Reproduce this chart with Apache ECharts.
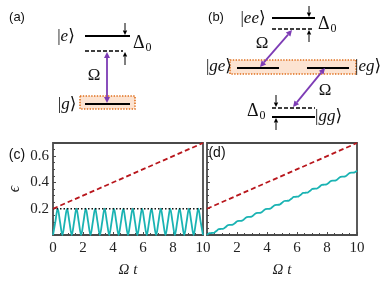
<!DOCTYPE html>
<html><head><meta charset="utf-8">
<script src="https://cdn.jsdelivr.net/npm/echarts@6/dist/echarts.min.js"></script>
<style>html,body{margin:0;padding:0;background:#fff}#c{width:382px;height:281px}</style>
</head><body><div id="c"></div><script>
// ---- data ----
const tGrid = [0,0.15625,0.3125,0.46875,0.625,0.78125,0.9375,1.09375,1.25,1.40625,1.5625,1.71875,1.875,2.03125,2.1875,2.34375,2.5,2.65625,2.8125,2.96875,3.125,3.28125,3.4375,3.59375,3.75,3.90625,4.0625,4.21875,4.375,4.53125,4.6875,4.84375,5,5.15625,5.3125,5.46875,5.625,5.78125,5.9375,6.09375,6.25,6.40625,6.5625,6.71875,6.875,7.03125,7.1875,7.34375,7.5,7.65625,7.8125,7.96875,8.125,8.28125,8.4375,8.59375,8.75,8.90625,9.0625,9.21875,9.375,9.53125,9.6875,9.84375,10];
const epsC = [0,0.1,0.2,0.1, 0,0.1,0.2,0.1, 0,0.1,0.2,0.1, 0,0.1,0.2,0.1, 0,0.1,0.2,0.1, 0,0.1,0.2,0.1, 0,0.1,0.2,0.1, 0,0.1,0.2,0.1, 0,0.1,0.2,0.1, 0,0.1,0.2,0.1, 0,0.1,0.2,0.1, 0,0.1,0.2,0.1, 0,0.1,0.2,0.1, 0,0.1,0.2,0.1, 0,0.1,0.2,0.1, 0,0.1,0.2,0.1, 0];
const epsD = [0,0.0137,0.0153,0.0170,0.0306,0.0443,0.0459,0.0476,0.0613,0.0749,0.0766,0.0782,0.0919,0.1055,0.1072,0.1088,0.1225,0.1362,0.1378,0.1395,0.1531,0.1668,0.1684,0.1701,0.1838,0.1974,0.1991,0.2007,0.2144,0.2280,0.2297,0.2313,0.2450,0.2587,0.2603,0.2620,0.2756,0.2893,0.2909,0.2926,0.3063,0.3199,0.3216,0.3232,0.3369,0.3505,0.3522,0.3538,0.3675,0.3812,0.3828,0.3845,0.3981,0.4118,0.4134,0.4151,0.4288,0.4424,0.4441,0.4457,0.4594,0.4730,0.4747,0.4763,0.4900];
const boundT = [0, 10];
const boundV = [0.2, 0.7];
const thresholdT = [0, 10];
const thresholdV = [0.2, 0.2];
const xTicks = [0, 2, 4, 6, 8, 10];
const yTicks = [0.2, 0.4, 0.6];

const pair = (a, b) => a.map((v, i) => [v, b[i]]);
const SERIF = '"Liberation Serif","DejaVu Serif",serif';
const SANS = '"Liberation Sans",Arial,sans-serif';
const RED = '#b8161c', CYAN = '#1ab3b3', PURPLE = '#7d3cb5', FRAME = '#4a4a4a';

// ---- schematic diagrams (a), (b) ----
const G = [];
function seg(x1, y1, x2, y2, c, w, dash) {
  G.push({type:'line', z:10, shape:{x1, y1, x2, y2}, style:{stroke:c||'#000', lineWidth:w||1.6, lineDash:dash||null}});
}
function head(x1, y1, x2, y2, L, W, c) {
  const dx = x2-x1, dy = y2-y1, len = Math.hypot(dx, dy), ux = dx/len, uy = dy/len;
  const bx = x2-ux*L, by = y2-uy*L;
  G.push({type:'polygon', z:11, shape:{points:[[x2,y2],[bx-uy*W,by+ux*W],[bx+uy*W,by-ux*W]]}, style:{fill:c}});
  return [bx, by];
}
function arrow(x1, y1, x2, y2) {
  const b = head(x1, y1, x2, y2, 4.5, 2.2, '#000');
  seg(x1, y1, b[0], b[1], '#000', 1);
}
function dbl(x1, y1, x2, y2) {
  const b1 = head(x2, y2, x1, y1, 6, 3, PURPLE);
  const b2 = head(x1, y1, x2, y2, 6, 3, PURPLE);
  seg(b1[0], b1[1], b2[0], b2[1], PURPLE, 1.8);
}
function txt(x, y, text, o) {
  o = o || {};
  G.push({type:'text', z:12, x, y, style:{text, fill:'#111', font:o.font || ('16px ' + SERIF),
    textAlign:o.align||'center', align:o.align||'center', textVerticalAlign:'middle', verticalAlign:'middle', rich:o.rich}});
}
const ketRich = {
  n:{fontFamily:SERIF, fontSize:17, fill:'#111'},
  i:{fontFamily:SERIF, fontSize:17, fontStyle:'italic', fill:'#111'}
};
function ket(x, y, s, align) { txt(x, y, '{n||}{i|' + s + '}{n|⟩}', {rich:ketRich, align}); }
function delta(x, y) {
  txt(x, y, 'Δ', {align:'left', font:'18px ' + SERIF});
  txt(x + 12.5, y + 5, '0', {align:'left', font:'12px ' + SERIF});
}
function box(x, y, w, h) {
  G.push({type:'rect', z:9, shape:{x, y, width:w, height:h}, style:{fill:'#fce3d1', stroke:'#e0701e', lineWidth:1.6, lineDash:[1.4,1.4]}});
}

// panel (a)
txt(17, 17, '(a)', {font:'13px ' + SANS});
ket(66, 37, 'e');
seg(85, 36, 130, 36, '#000', 1.8);
seg(85, 51, 123, 51, '#000', 1.6, [4, 2]);
arrow(125, 23, 125, 35);
arrow(125, 65, 125, 52);
delta(133, 43);
box(80, 96, 55, 13);
seg(85, 104, 130, 104, '#000', 1.8);
dbl(107, 52, 107, 103);
txt(94, 76, 'Ω', {font:'17px ' + SERIF});
ket(67, 105, 'g');

// panel (b)
txt(216, 17, '(b)', {font:'13px ' + SANS});
ket(253, 19, 'ee');
seg(272, 18, 315, 18, '#000', 1.8);
seg(272, 29, 313, 29, '#000', 1.6, [4, 2]);
arrow(309, 6, 309, 17);
arrow(309, 42, 309, 30);
delta(318, 24);
box(230, 60, 126, 14);
seg(237, 68, 279, 68, '#000', 1.8);
seg(307, 68, 349, 68, '#000', 1.8);
ket(232, 67, 'ge', 'right');
ket(355, 67, 'eg', 'left');
dbl(292, 30, 260, 67);
txt(262, 44, 'Ω', {font:'17px ' + SERIF});
dbl(325, 68, 293, 107);
txt(325, 91, 'Ω', {font:'17px ' + SERIF});
seg(272, 108, 315, 108, '#000', 1.6, [4, 2]);
seg(272, 117, 315, 117, '#000', 1.8);
arrow(276, 95, 276, 107);
arrow(276, 130, 276, 118);
delta(247, 111);
ket(315, 117, 'gg', 'left');

// panel labels for (c), (d)
txt(17, 155, '(c)', {font:'14px ' + SANS});
txt(217, 153, '(d)', {font:'14px ' + SANS});

// ---- charts ----
const xAxisBase = (gi, hideZero) => ({
  type:'value', gridIndex:gi, min:0, max:10, interval:2,
  axisLine:{show:false}, splitLine:{show:false},
  axisTick:{show:true, inside:true, length:3, lineStyle:{color:FRAME}},
  minorTick:{show:true, splitNumber:4, length:2, lineStyle:{color:FRAME}},
  axisLabel:{margin:6, color:'#222', fontFamily:SERIF, fontSize:15,
    formatter:v => (xTicks.includes(v) && !(hideZero && v === 0)) ? String(v) : ''},
  name:'Ω t', nameLocation:'middle', nameGap:28,
  nameTextStyle:{fontFamily:SERIF, fontSize:15, fontStyle:'italic', color:'#222'}
});
const yAxisBase = (gi, labels) => ({
  type:'value', gridIndex:gi, min:0, max:0.7, interval:0.2,
  axisLine:{show:false}, splitLine:{show:false},
  axisTick:{show:true, inside:true, length:3, lineStyle:{color:FRAME}},
  minorTick:{show:true, splitNumber:4, length:2, lineStyle:{color:FRAME}},
  axisLabel:{show:labels, margin:4, color:'#222', fontFamily:SERIF, fontSize:15,
    formatter:v => yTicks.some(t => Math.abs(t - v) < 1e-9) ? v.toFixed(1) : ''},
  name:labels ? 'ϵ' : '', nameLocation:'middle', nameGap:30, nameRotate:90,
  nameTextStyle:{fontFamily:SERIF, fontSize:16, fontStyle:'italic', color:'#222'}
});

const chart = echarts.init(document.getElementById('c'), null, {renderer:'canvas'});
chart.setOption({
  animation:false,
  backgroundColor:'#fff',
  grid:[
    {left:53, top:143, width:150, height:92, show:true, borderColor:FRAME, borderWidth:1.8, backgroundColor:'transparent'},
    {left:207, top:143, width:150, height:92, show:true, borderColor:FRAME, borderWidth:1.8, backgroundColor:'transparent'}
  ],
  xAxis:[xAxisBase(0, false), xAxisBase(1, true)],
  yAxis:[yAxisBase(0, true), yAxisBase(1, false)],
  series:[
    {type:'line', xAxisIndex:0, yAxisIndex:0, data:pair(tGrid, epsC), smooth:0.35, showSymbol:false,
     lineStyle:{color:CYAN, width:1.8}, z:3},
    {type:'line', xAxisIndex:0, yAxisIndex:0, data:pair(thresholdT, thresholdV), showSymbol:false,
     lineStyle:{color:'#111', width:1.5, type:[1.5, 2]}, z:4},
    {type:'line', xAxisIndex:0, yAxisIndex:0, data:pair(boundT, boundV), showSymbol:false,
     lineStyle:{color:RED, width:1.8, type:[5, 3]}, z:4},
    {type:'line', xAxisIndex:1, yAxisIndex:1, data:pair(tGrid, epsD), smooth:0.35, showSymbol:false,
     lineStyle:{color:CYAN, width:1.8}, z:3},
    {type:'line', xAxisIndex:1, yAxisIndex:1, data:pair(boundT, boundV), showSymbol:false,
     lineStyle:{color:RED, width:1.8, type:[5, 3]}, z:4}
  ],
  graphic:G
});
</script></body></html>
